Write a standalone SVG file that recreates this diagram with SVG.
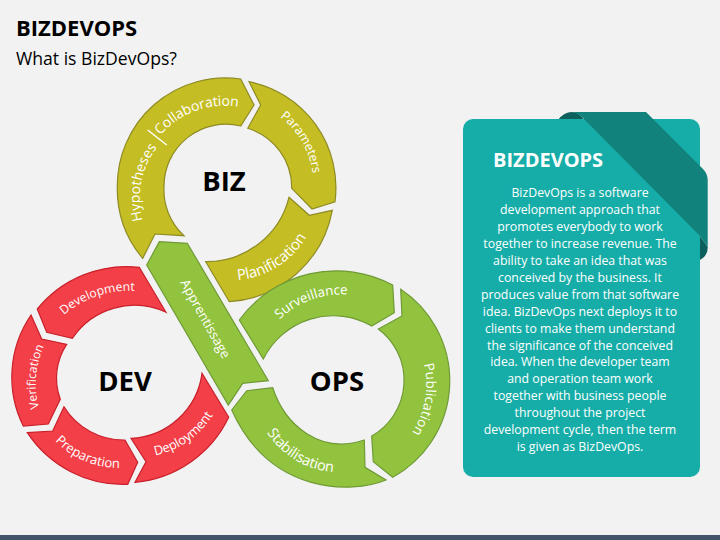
<svg xmlns="http://www.w3.org/2000/svg" width="720" height="540" viewBox="0 0 720 540">
<style>
text{font-family:"Open Sans","Noto Sans",sans-serif}
.y{fill:#C4BD23;stroke:#8F8B24;stroke-width:1.2}
.g{fill:#92C33E;stroke:#6F9A36;stroke-width:1.2}
.r{fill:#F33F48;stroke:#C9202B;stroke-width:1.2}
.l{fill:#fff;font-size:14px;text-anchor:middle}
.h{fill:#000;font-size:27.5px;font-weight:700;text-anchor:middle}
.p{fill:#fff;font-size:12.3px;text-anchor:middle}
</style>
<defs>
<path id="pHyp" d="M149.7,238.6 A85 85 0 0 1 170.5,133.2"/>
<path id="pCol" d="M147.6,150.3 A88 88 0 0 1 257.8,109.9"/>
<path id="pPar" d="M262.4,104.7 A85 85 0 0 1 314.4,194.7"/>
<path id="pPla" d="M222.4,282.1 A90 90 0 0 0 314.8,224.1"/>
<path id="pApp" d="M171.7,270 L229.3,373"/>
<path id="pDvl" d="M51.3,328.3 A100 100 0 0 1 152.7,293.5"/>
<path id="pVer" d="M45,423.6 A90 90 0 0 1 52.4,331.6"/>
<path id="pPre" d="M46.1,430.3 A90 90 0 0 0 133.7,466.9"/>
<path id="pDep" d="M140.2,458.1 A90 90 0 0 0 220.8,401.9"/>
<path id="pSur" d="M266.1,335.8 A90 90 0 0 1 368.3,298.4"/>
<path id="pPub" d="M415.8,347.7 A85 85 0 0 1 399,445.3"/>
<path id="pSta" d="M256.8,419.5 A90 90 0 0 0 349.6,474.9"/>
</defs>
<rect width="720" height="540" fill="#F2F2F2"/>
<rect y="535" width="720" height="5" fill="#44546A"/>
<text x="16" y="36" font-size="22" font-weight="700" fill="#000">BIZDEVOPS</text>
<text x="16" y="65" font-size="17.6" fill="#000">What is BizDevOps?</text>
<g id="connectors"></g>
<g id="biz">
<path class="y" d="M240.7,79 L254,105 L240.7,126 A62 62 0 0 0 164,186.7 A62 62 0 0 0 184,235.7 L155,234 L142.7,258.3 A108 108 0 0 1 117.3,186.7 A108 108 0 0 1 240.7,79 Z"/>
<path class="y" d="M249,81.7 A108 108 0 0 1 335,201.7 L312,209 L291.7,188.3 A62 62 0 0 0 247.7,128.3 L260.7,105 Z"/>
<path class="y" d="M289,197.3 L309.3,215.3 L332.3,210.3 A112 112 0 0 1 229.3,301.7 L205.7,261.7 A85 85 0 0 0 289,197.3 Z"/>
<path d="M147.7,130 L166.7,145" stroke="#fff" stroke-width="1.5" fill="none"/>
<text class="l"><textPath href="#pHyp" startOffset="50%">Hypotheses</textPath></text>
<text class="l" dy="2"><textPath href="#pCol" startOffset="50%">Collaboration</textPath></text>
<text class="l" dy="2" style="font-size:12.6px"><textPath href="#pPar" startOffset="50%">Parameters</textPath></text>
<text class="l" dy="-2" style="font-size:15px"><textPath href="#pPla" startOffset="50%">Planification</textPath></text>
<text class="h" x="224" y="191">BIZ</text>
</g>
<g id="apprentissage">
<path class="g" d="M159.3,241.7 L187.3,243.3 L268.3,380.7 L242.7,383.3 L228.3,405 L146.7,265 Z"/>
<text class="l" dy="-1" style="font-size:13.2px"><textPath href="#pApp" startOffset="50%">Apprentissage</textPath></text>
</g>
<g id="dev">
<path class="r" d="M37.3,309 A115 115 0 0 1 139.3,267.3 L166,312.3 A75 75 0 0 0 72.3,338.3 L46.7,332.3 Z"/>
<path class="r" d="M31,315 L41.7,339 L66.7,344.3 A61 61 0 0 0 60.3,399.3 L48.3,424 L23.3,426 A110 110 0 0 1 31,315 Z"/>
<path class="r" d="M27.3,432.7 L52.7,431 L64,406.7 A70 70 0 0 0 125,440 L137.7,462.3 L127.7,484.3 A115 115 0 0 1 27.3,432.7 Z"/>
<path class="r" d="M131,438.3 A75 75 0 0 0 202,373.3 L228.7,417.3 A115 115 0 0 1 135,482.3 L146,461.7 Z"/>
<text class="l" style="font-size:12.2px"><textPath href="#pDvl" startOffset="50%">Development</textPath></text>
<text class="l" style="font-size:12px"><textPath href="#pVer" startOffset="50%">Verification</textPath></text>
<text class="l" style="font-size:13px"><textPath href="#pPre" startOffset="50%">Preparation</textPath></text>
<text class="l" dy="-1" style="font-size:12.8px"><textPath href="#pDep" startOffset="50%">Deployment</textPath></text>
<text class="h" x="125" y="391">DEV</text>
</g>
<g id="ops">
<path class="g" d="M239.3,320 A120 120 0 0 1 392.7,285 L394.3,312.7 L371.7,326 A78 78 0 0 0 263.3,359 Z"/>
<path class="g" d="M400.7,289.3 A110 110 0 0 1 392.7,477.3 L373.3,461.7 L371.7,436 A64 64 0 0 0 378.3,329 L402,316 Z"/>
<path class="g" d="M231.7,410 L246.7,390.7 L272.7,387.7 C285,425 320,455 364.3,440 L365,467.3 L386,480 C352,494 270,495 231.7,410 Z"/>
<text class="l" style="font-size:13.3px"><textPath href="#pSur" startOffset="50%">Surveillance</textPath></text>
<text class="l" dy="-2" style="font-size:13.5px"><textPath href="#pPub" startOffset="50%">Publication</textPath></text>
<text class="l" dy="-3" style="font-size:14.5px"><textPath href="#pSta" startOffset="50%">Stabilisation</textPath></text>
<text class="h" x="337" y="391">OPS</text>
</g>
<g id="panel">
<path fill="#0D5F5B" d="M558,120 Q564,112 572,112 Q579,112 584,120 Z"/>
<rect x="463" y="119" width="237" height="358" rx="10" fill="#16ADA8"/>
<path fill="#0D5F5B" d="M700,236 L707.7,247 Q708,256 700,260 Z"/>
<path fill="#11827C" d="M572,112 L646,112 L703,169 Q707.7,174 707.7,180 L707.7,247 L700,236 L583,118 Q578,113 572,112 Z"/>
<text x="493" y="167" font-size="20" font-weight="700" fill="#fff">BIZDEVOPS</text>
<text class="p"><tspan x="580" y="197">BizDevOps is a software</tspan><tspan x="580" y="214">development approach that</tspan><tspan x="580" y="231">promotes everybody to work</tspan><tspan x="580" y="248">together to increase revenue. The</tspan><tspan x="580" y="265">ability to take an idea that was</tspan><tspan x="580" y="282">conceived by the business. It</tspan><tspan x="580" y="299">produces value from that software</tspan><tspan x="580" y="316">idea. BizDevOps next deploys it to</tspan><tspan x="580" y="333">clients to make them understand</tspan><tspan x="580" y="350">the significance of the conceived</tspan><tspan x="580" y="366">idea. When the developer team</tspan><tspan x="580" y="383">and operation team work</tspan><tspan x="580" y="400">together with business people</tspan><tspan x="580" y="417">throughout the project</tspan><tspan x="580" y="434">development cycle, then the term</tspan><tspan x="580" y="451">is given as BizDevOps.</tspan></text>
</g>
</svg>
